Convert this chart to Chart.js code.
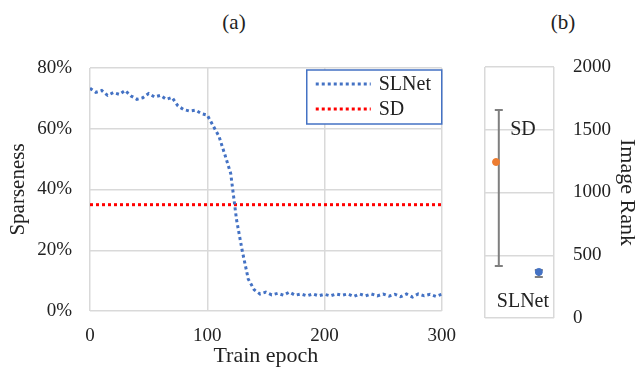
<!DOCTYPE html>
<html lang="en">
<head>
<meta charset="UTF-8">
<title>Sparseness and image rank</title>
<script src="https://cdn.jsdelivr.net/npm/chart.js"></script>
<style>
  body { margin: 0; background: #fff; width: 636px; height: 367px; position: relative; overflow: hidden; }
  canvas { position: absolute; top: 0; }
  #chartA { left: 0; }
  #chartB { left: 470px; }
  .ptitle { position: absolute; top: 10px; font: 21px "Liberation Serif", serif; color: #222; transform: translateX(-50%); }
</style>
</head>
<body>
<div class="ptitle" style="left:234px">(a)</div>
<div class="ptitle" style="left:563px">(b)</div>
<canvas id="chartA" width="470" height="367"></canvas>
<canvas id="chartB" width="166" height="367"></canvas>

<script>
// (a) sparseness over training
const epochs = [0, 5, 10, 15, 20, 25, 30, 35, 40, 45, 50, 55, 60, 65, 70, 75, 80, 85, 90, 95,
  100, 105, 110, 115, 120, 125, 130, 135, 140, 145, 150, 155, 160, 165, 170, 175, 180, 185, 190, 195,
  200, 205, 210, 215, 220, 225, 230, 235, 240, 245, 250, 255, 260, 265, 270, 275, 280, 285, 290, 295, 300];
const slnetSparseness = [73.3, 72.0, 72.6, 71.0, 71.9, 71.3, 72.6, 70.8, 69.7, 70.2, 71.6, 70.5, 71.0, 69.7, 70.3, 67.5, 66.3, 65.8, 66.1, 65.0,
  64.5, 61.0, 57.5, 51.5, 45.3, 30.0, 19.5, 10.5, 7.0, 5.6, 6.2, 5.3, 5.8, 5.2, 6.2, 5.2, 5.6, 5.0, 5.6, 5.0,
  5.5, 5.0, 5.6, 5.2, 5.6, 4.8, 5.6, 5.0, 5.6, 5.0, 5.6, 4.9, 5.5, 4.7, 5.6, 4.6, 5.6, 5.0, 5.5, 4.8, 5.5];
const sdEpochs = [0, 300];
const sdSparseness = [35, 35];

// (b) image rank
const rankMethods = ['SD', 'SLNet'];
const rankPosX = [0.16, 0.78];
const rankMean = [1243, 367];
const rankErrX = [0.2, 0.78];
const rankErrHigh = [1657, 382];
const rankErrLow = [414, 327];

const BLUE = '#4472C4';
const RED = '#FF0000';
const ORANGE = '#ED7D31';
const GRID = '#d9d9d9';
const FONT = '"Liberation Serif", serif';

Chart.defaults.font.family = FONT;
Chart.defaults.font.size = 19;
Chart.defaults.color = '#222';

const legendBox = {
  id: 'legendBox',
  afterDraw(chart) {
    const { ctx, chartArea } = chart;
    const w = 135, h = 54;
    const x0 = chartArea.right - w, y0 = chartArea.top + 2;
    ctx.save();
    ctx.fillStyle = '#fff';
    ctx.fillRect(x0, y0, w, h);
    ctx.strokeStyle = BLUE;
    ctx.lineWidth = 1.5;
    ctx.strokeRect(x0, y0, w, h);
    chart.data.datasets.forEach((ds, i) => {
      const y = y0 + 14 + i * 25;
      ctx.setLineDash([3, 3]);
      ctx.strokeStyle = ds.borderColor;
      ctx.lineWidth = 3;
      ctx.beginPath();
      ctx.moveTo(x0 + 9, y);
      ctx.lineTo(x0 + 64, y);
      ctx.stroke();
      ctx.setLineDash([]);
      ctx.fillStyle = '#222';
      ctx.font = '20px ' + FONT;
      ctx.textBaseline = 'middle';
      ctx.fillText(ds.label, x0 + 72, y + 1);
    });
    ctx.restore();
  }
};

new Chart(document.getElementById('chartA'), {
  type: 'line',
  data: {
    datasets: [{
      label: 'SLNet',
      data: epochs.map((e, i) => ({ x: e, y: slnetSparseness[i] })),
      borderColor: BLUE,
      borderWidth: 3,
      borderDash: [3, 3],
      pointRadius: 0,
      tension: 0
    }, {
      label: 'SD',
      data: sdEpochs.map((e, i) => ({ x: e, y: sdSparseness[i] })),
      borderColor: RED,
      borderWidth: 3,
      borderDash: [3, 3],
      pointRadius: 0
    }]
  },
  options: {
    responsive: false,
    animation: false,
    layout: { padding: { left: 0, top: 68, right: 27, bottom: 0 } },
    plugins: { legend: { display: false }, tooltip: { enabled: false } },
    scales: {
      x: {
        type: 'linear', min: 0, max: 300,
        ticks: { stepSize: 100, padding: 14 },
        grid: { color: GRID, lineWidth: 1.5, drawTicks: false },
        border: { display: false },
        title: { display: true, text: 'Train epoch', font: { size: 22, lineHeight: 1 }, padding: { top: 0, bottom: 0 } },
        afterFit(s) { s.height = 56; }
      },
      y: {
        min: 0, max: 80,
        ticks: { stepSize: 20, padding: 18, callback: v => v + '%' },
        grid: { color: GRID, lineWidth: 1.5, drawTicks: false },
        border: { display: false },
        title: { display: true, text: 'Sparseness', font: { size: 21, lineHeight: 1 }, padding: { top: 8, bottom: 0 } },
        afterFit(s) { s.width = 90; }
      }
    }
  },
  plugins: [legendBox]
});

const errorBars = {
  id: 'errorBars',
  beforeDatasetsDraw(chart) {
    const { ctx, scales } = chart;
    ctx.save();
    ctx.strokeStyle = '#7F7F7F';
    ctx.lineWidth = 2;
    rankErrX.forEach((xv, i) => {
      const px = scales.x.getPixelForValue(xv);
      const top = scales.y.getPixelForValue(rankErrHigh[i]);
      const bot = scales.y.getPixelForValue(rankErrLow[i]);
      ctx.beginPath();
      ctx.moveTo(px, top); ctx.lineTo(px, bot);
      ctx.moveTo(px - 4, top); ctx.lineTo(px + 4, top);
      ctx.moveTo(px - 4, bot); ctx.lineTo(px + 4, bot);
      ctx.stroke();
    });
    ctx.restore();
  },
  afterDatasetsDraw(chart) {
    const { ctx, scales } = chart;
    ctx.save();
    ctx.fillStyle = '#222';
    ctx.font = '20px ' + FONT;
    ctx.textAlign = 'center';
    ctx.textBaseline = 'middle';
    ctx.fillText(rankMethods[0], scales.x.getPixelForValue(0.55), scales.y.getPixelForValue(1500));
    ctx.fillText(rankMethods[1], scales.x.getPixelForValue(0.55), scales.y.getPixelForValue(130));
    ctx.restore();
  }
};

new Chart(document.getElementById('chartB'), {
  type: 'scatter',
  data: {
    datasets: rankMethods.map((m, i) => ({
      label: m,
      data: [{ x: rankPosX[i], y: rankMean[i] }],
      backgroundColor: i === 0 ? ORANGE : BLUE,
      borderColor: i === 0 ? ORANGE : BLUE,
      pointRadius: 3.5
    }))
  },
  options: {
    responsive: false,
    animation: false,
    layout: { padding: { left: 15, top: 67, right: 0, bottom: 0 } },
    plugins: { legend: { display: false }, tooltip: { enabled: false } },
    scales: {
      x: {
        type: 'linear', min: 0, max: 1,
        ticks: { display: false, stepSize: 1 },
        grid: { color: GRID, lineWidth: 1.5, drawTicks: false },
        border: { display: false },
        afterFit(s) { s.height = 49; }
      },
      y: {
        position: 'right',
        min: 0, max: 2000,
        ticks: { stepSize: 500, padding: 19, callback: v => String(v) },
        grid: { color: GRID, lineWidth: 1.5, drawTicks: false },
        border: { display: false },
        title: { display: true, text: 'Image Rank', font: { size: 22, lineHeight: 0.8 }, padding: 0 },
        afterFit(s) { s.width = 82; }
      }
    }
  },
  plugins: [errorBars]
});
</script>
</body>
</html>
